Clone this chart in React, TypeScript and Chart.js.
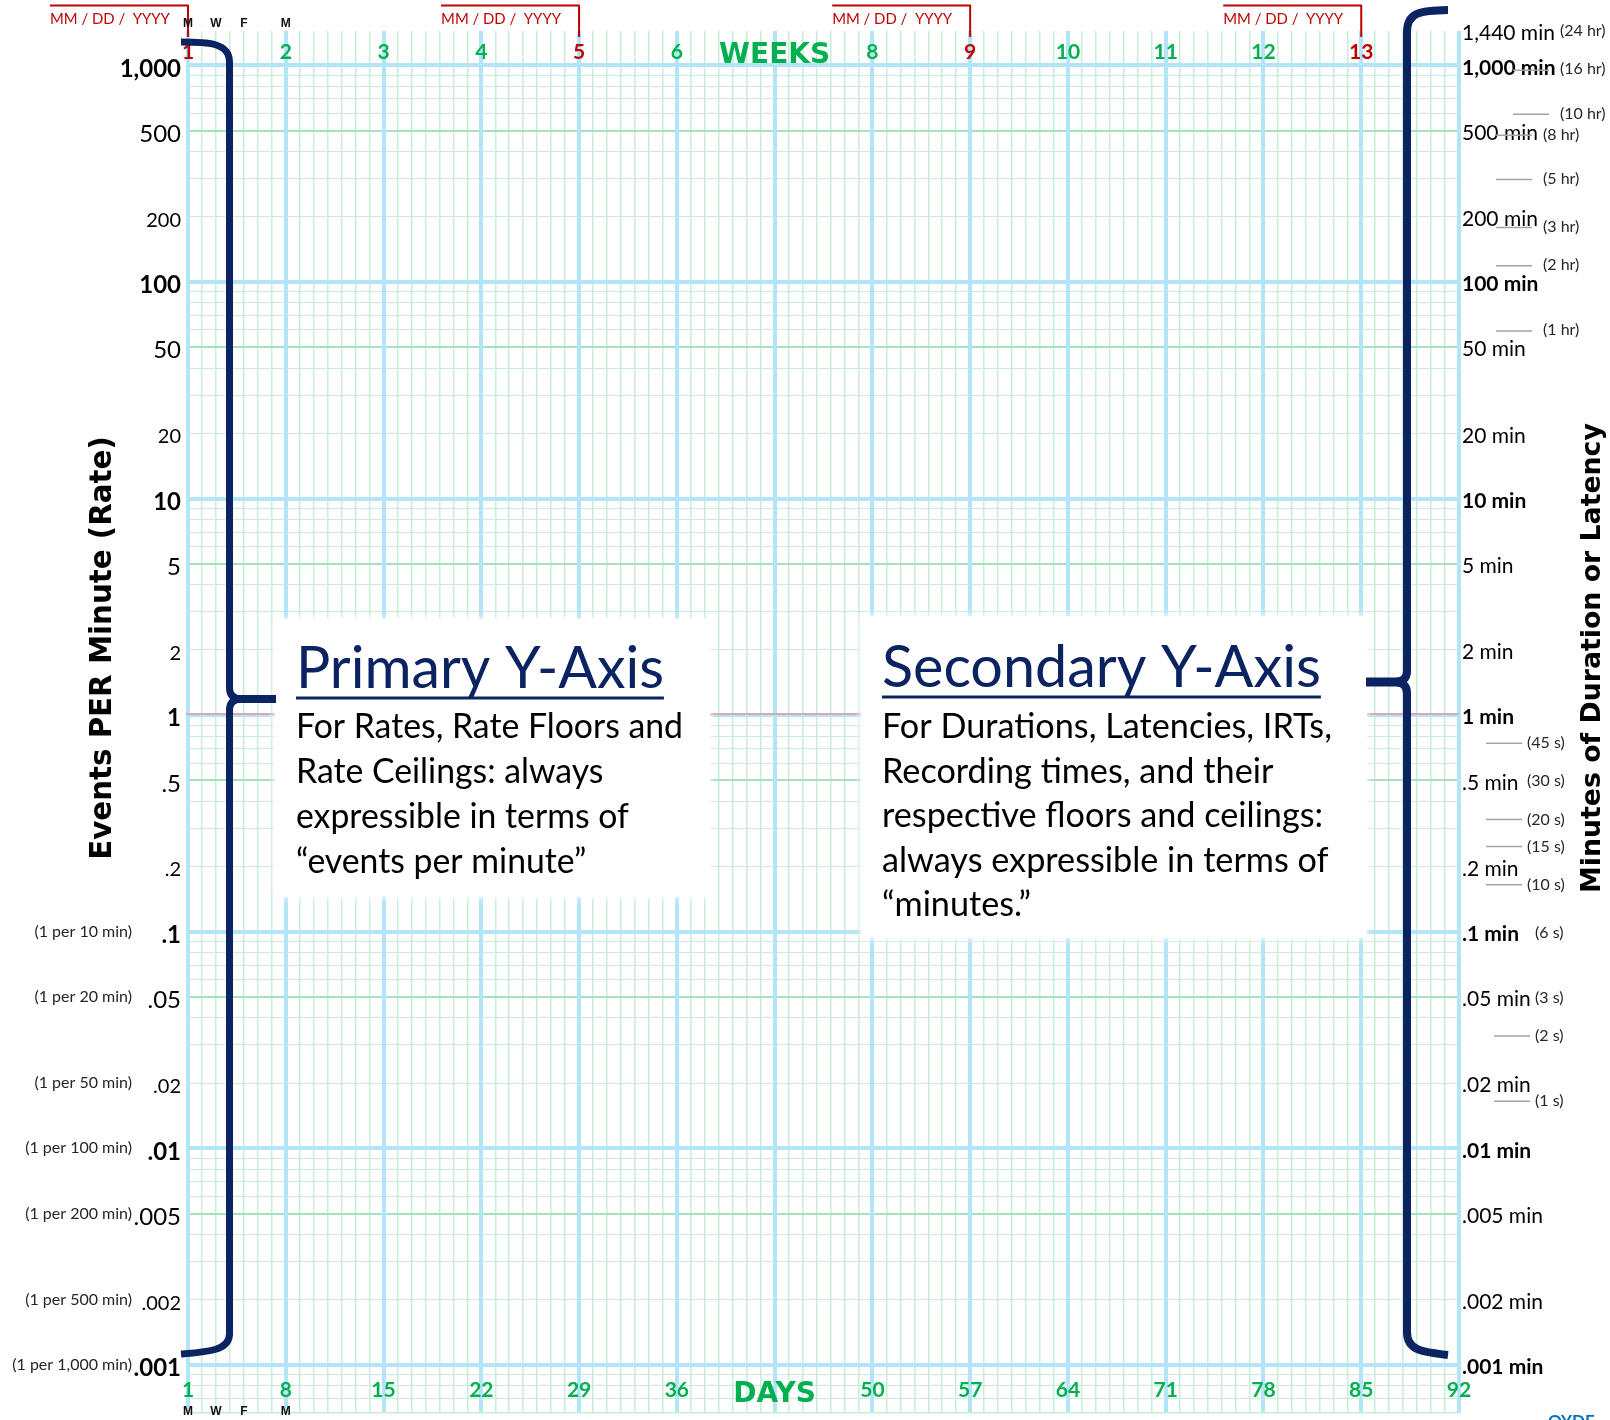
import React, { useEffect, useRef } from 'react';
import { Chart, registerables } from 'chart.js';

Chart.register(...registerables);

// ---------- axis ranges ----------
const dayRange = [1, 92];
const rateRange = [0.00064, 1440];

// ---------- calendar axis labels ----------
const weekStartDays = [1, 8, 15, 22, 29, 36, 43, 50, 57, 64, 71, 78, 85, 92];
const weekLabels = ['1', '2', '3', '4', '5', '6', 'WEEKS', '8', '9', '10', '11', '12', '13', ''];
const dayLabels = ['1', '8', '15', '22', '29', '36', 'DAYS', '50', '57', '64', '71', '78', '85', '92'];
const dateMarkerDays = [1, 29, 57, 85];
const dateMarkerText = 'MM / DD /  YYYY';
const weekdayDays = [1, 3, 5, 8];
const weekdayLabels = ['M', 'W', 'F', 'M'];

// ---------- rate (left) axis ----------
const rateTicks = [1000, 500, 200, 100, 50, 20, 10, 5, 2, 1, 0.5, 0.2, 0.1, 0.05, 0.02, 0.01, 0.005, 0.002, 0.001];
const rateLabels = ['1,000', '500', '200', '100', '50', '20', '10', '5', '2', '1', '.5', '.2', '.1', '.05', '.02', '.01', '.005', '.002', '.001'];
const perMinuteValues = [0.1, 0.05, 0.02, 0.01, 0.005, 0.002, 0.001];
const perMinuteLabels = ['(1 per 10 min)', '(1 per 20 min)', '(1 per 50 min)', '(1 per 100 min)', '(1 per 200 min)', '(1 per 500 min)', '(1 per 1,000 min)'];

// ---------- minutes (right) axis ----------
const minuteTicks = [1440, 1000, 500, 200, 100, 50, 20, 10, 5, 2, 1, 0.5, 0.2, 0.1, 0.05, 0.02, 0.01, 0.005, 0.002, 0.001];
const minuteLabels = ['1,440 min', '1,000 min', '500 min', '200 min', '100 min', '50 min', '20 min', '10 min', '5 min', '2 min', '1 min', '.5 min', '.2 min', '.1 min', '.05 min', '.02 min', '.01 min', '.005 min', '.002 min', '.001 min'];
const hourValues = [1440, 960, 600, 480, 300, 180, 120, 60];
const hourLabels = ['(24 hr)', '(16 hr)', '(10 hr)', '(8 hr)', '(5 hr)', '(3 hr)', '(2 hr)', '(1 hr)'];
const secondValues = [45 / 60, 30 / 60, 20 / 60, 15 / 60, 10 / 60, 6 / 60, 3 / 60, 2 / 60, 1 / 60];
const secondLabels = ['(45 s)', '(30 s)', '(20 s)', '(15 s)', '(10 s)', '(6 s)', '(3 s)', '(2 s)', '(1 s)'];

// ---------- titles and captions ----------
const rateTitle = 'Events PER Minute (Rate)';
const minutesTitle = 'Minutes of Duration or Latency';
const primaryTitle = 'Primary Y-Axis';
const primaryBody = ['For Rates, Rate Floors and', 'Rate Ceilings: always', 'expressible in terms of', '\u201Cevents per minute\u201D'];
const secondaryTitle = 'Secondary Y-Axis';
const secondaryBody = ['For Durations, Latencies, IRTs,', 'Recording times, and their', 'respective floors and ceilings:', 'always expressible in terms of', '\u201Cminutes.\u201D'];

// ---------- palette ----------
const BLUE = 'rgb(180, 228, 248)';
const GREEN = 'rgb(200, 237, 216)';
const GREEN_MID = 'rgb(164, 226, 190)';
const CLEAR = 'rgba(0,0,0,0)';
const NAVY = '#0b2461';
const RED = '#c00000';
const GREEN_TEXT = '#00b050';
const SANS = 'Lato';
const HEAVY = '"DejaVu Sans"';

const isDecade = (v: number) => Math.abs(Math.log10(v) - Math.round(Math.log10(v))) < 1e-9;
const mantissa = (v: number) => Math.round(v / Math.pow(10, Math.floor(Math.log10(v) + 1e-9)));
const lookup = (values: number[], labels: string[], v: number) => {
  const i = values.findIndex((t) => Math.abs(t - v) <= Math.abs(t) * 1e-6);
  return i >= 0 ? labels[i] : '';
};
// a blank leading line nudges a side-axis label a few pixels below its gridline
const nudged = (label: string) => (label ? ['', label] : '');

// every 1..9 x 10^n gridline inside the rate range
function logGridValues(min: number, max: number) {
  const out: number[] = [];
  for (let e = -5; e <= 4; e++) {
    for (let m = 1; m <= 9; m++) {
      const v = Number((m * Math.pow(10, e)).toPrecision(6));
      if (v >= min && v <= max) out.push(v);
    }
  }
  return out;
}

function dayGridValues(min: number, max: number) {
  const out: number[] = [];
  for (let d = min; d <= max; d++) out.push(d);
  return out;
}

const isWeekStart = (d: number) => weekStartDays.includes(d);

function fitSize(ctx: CanvasRenderingContext2D, text: string, weight: string, family: string, width: number) {
  ctx.font = `${weight} 100px ${family}`;
  return (100 * width) / ctx.measureText(text).width;
}

function drawPanel(ctx: CanvasRenderingContext2D, x: number, y: number, w: number, h: number) {
  ctx.save();
  ctx.shadowColor = '#ffffff';
  ctx.shadowBlur = 8;
  ctx.fillStyle = '#ffffff';
  ctx.fillRect(x, y, w, h);
  ctx.restore();
}

function drawCaption(
  ctx: CanvasRenderingContext2D,
  x: number,
  titleBase: number,
  title: string,
  titleWidth: number,
  body: string[],
  bodyBase: number,
  gap: number,
  bodyWidth: number
) {
  const ts = fitSize(ctx, title, '400', SANS, titleWidth);
  ctx.font = `400 ${ts}px ${SANS}`;
  ctx.fillStyle = NAVY;
  ctx.textAlign = 'left';
  ctx.textBaseline = 'alphabetic';
  ctx.fillText(title, x, titleBase);
  const tw = ctx.measureText(title).width;
  ctx.fillRect(x, titleBase + 8.5, tw, 3);

  const bs = fitSize(ctx, body[0], '400', SANS, bodyWidth);
  ctx.font = `400 ${bs}px ${SANS}`;
  ctx.fillStyle = '#000000';
  body.forEach((line, i) => ctx.fillText(line, x, bodyBase + i * gap));
}

const chartFurniture = {
  id: 'chartFurniture',
  afterDatasetsDraw(chart: any) {
    const { ctx, chartArea, scales } = chart;
    const px = (d: number) => scales.x.getPixelForValue(d);
    const py = (v: number) => scales.y.getPixelForValue(v);
    const pm = (v: number) => scales.y2.getPixelForValue(v);
    ctx.save();

    // red rule over the 1-per-minute line
    const y1 = py(1);
    ctx.strokeStyle = 'rgba(238, 140, 150, 0.7)';
    ctx.lineWidth = 2;
    ctx.beginPath();
    ctx.moveTo(chartArea.left - 2, y1 - 1);
    ctx.lineTo(chartArea.right, y1 - 1);
    ctx.stroke();

    // caption panels
    drawPanel(ctx, 275, 619, 435, 278);
    drawPanel(ctx, 861, 616, 506, 322);
    drawCaption(ctx, 296, 688, primaryTitle, 368, primaryBody, 738, 45, 387);
    drawCaption(ctx, 882, 687, secondaryTitle, 439, secondaryBody, 738, 44.5, 450);

    // braces
    ctx.strokeStyle = NAVY;
    ctx.lineCap = 'butt';
    ctx.lineJoin = 'round';
    ctx.lineWidth = 7;
    ctx.beginPath();
    ctx.moveTo(181, 42);
    ctx.bezierCurveTo(206, 42, 229.5, 42, 229.5, 62);
    ctx.lineTo(229.5, 688);
    ctx.quadraticCurveTo(229.5, 698, 240, 699);
    ctx.moveTo(240, 699);
    ctx.quadraticCurveTo(229.5, 700, 229.5, 710);
    ctx.lineTo(229.5, 1334);
    ctx.bezierCurveTo(229.5, 1351, 206, 1352, 181, 1354);
    ctx.stroke();
    ctx.lineWidth = 8;
    ctx.beginPath();
    ctx.moveTo(236, 699);
    ctx.lineTo(276, 699);
    ctx.stroke();

    ctx.lineWidth = 8;
    ctx.beginPath();
    ctx.moveTo(1448, 10);
    ctx.bezierCurveTo(1421, 10.5, 1407, 12, 1407, 32);
    ctx.lineTo(1407, 671);
    ctx.quadraticCurveTo(1407, 681, 1396, 682);
    ctx.moveTo(1396, 682);
    ctx.quadraticCurveTo(1407, 683, 1407, 693);
    ctx.lineTo(1407, 1332);
    ctx.bezierCurveTo(1407, 1350, 1421, 1352, 1448, 1355);
    ctx.stroke();
    ctx.lineWidth = 9;
    ctx.beginPath();
    ctx.moveTo(1366, 682);
    ctx.lineTo(1400, 682);
    ctx.stroke();

    // date markers above selected weeks
    const ds = fitSize(ctx, dateMarkerText, '400', SANS, 120);
    dateMarkerDays.forEach((d) => {
      const X = px(d);
      ctx.strokeStyle = RED;
      ctx.lineWidth = 2;
      ctx.lineCap = 'butt';
      ctx.beginPath();
      ctx.moveTo(X - 138, 5.5);
      ctx.lineTo(X, 5.5);
      ctx.lineTo(X, 37);
      ctx.stroke();
      ctx.font = `400 ${ds}px ${SANS}`;
      ctx.fillStyle = RED;
      ctx.textAlign = 'left';
      ctx.textBaseline = 'alphabetic';
      ctx.fillText(dateMarkerText, X - 138, 24);
    });

    // weekday initials
    ctx.font = `bold 12px "Liberation Sans"`;
    ctx.fillStyle = '#111111';
    ctx.textAlign = 'center';
    ctx.textBaseline = 'middle';
    weekdayDays.forEach((d, i) => {
      ctx.fillText(weekdayLabels[i], px(d), 24);
      ctx.fillText(weekdayLabels[i], px(d), 1412);
    });

    // per-minute notes beside the lower rate labels
    ctx.font = `400 16px ${SANS}`;
    ctx.fillStyle = '#262626';
    ctx.textAlign = 'right';
    perMinuteValues.forEach((v, i) => ctx.fillText(perMinuteLabels[i], 132, py(v)));

    // hour and second equivalents on the minutes axis
    const onTick = (v: number) => minuteTicks.some((t) => Math.abs(t - v) <= t * 1e-6);
    ctx.textAlign = 'left';
    ctx.strokeStyle = '#a3a3a3';
    ctx.lineWidth = 1.5;
    hourValues.forEach((v, i) => {
      const yy = pm(v);
      const lx = v >= 600 ? 1560 : 1543;
      if (!onTick(v)) {
        ctx.beginPath();
        ctx.moveTo(lx - 47, yy + 1);
        ctx.lineTo(lx - 11, yy + 1);
        ctx.stroke();
      }
      ctx.fillText(hourLabels[i], lx, yy);
    });
    secondValues.forEach((v, i) => {
      const yy = pm(v);
      const lx = v > 0.11 ? 1527 : 1535;
      if (!onTick(v)) {
        ctx.beginPath();
        ctx.moveTo(lx - 41, yy + 1);
        ctx.lineTo(lx - 5, yy + 1);
        ctx.stroke();
      }
      ctx.fillText(secondLabels[i], lx, yy + 1);
    });

    // axis titles
    ctx.fillStyle = '#000000';
    ctx.textAlign = 'center';
    ctx.textBaseline = 'middle';
    const ls = fitSize(ctx, rateTitle, 'bold', HEAVY, 424);
    ctx.save();
    ctx.translate(103, 648);
    ctx.rotate(-Math.PI / 2);
    ctx.font = `bold ${ls}px ${HEAVY}`;
    ctx.fillText(rateTitle, 0, 0);
    ctx.restore();
    const rs = fitSize(ctx, minutesTitle, 'bold', HEAVY, 470);
    ctx.save();
    ctx.translate(1593, 658);
    ctx.rotate(-Math.PI / 2);
    ctx.font = `bold ${rs}px ${HEAVY}`;
    ctx.fillText(minutesTitle, 0, 0);
    ctx.restore();

    // footer code, trimmed by the page edge
    ctx.font = `bold 17px ${SANS}`;
    ctx.fillStyle = '#0070c0';
    ctx.textAlign = 'left';
    ctx.textBaseline = 'top';
    ctx.fillText('QYDF', 1548, 1413);

    ctx.restore();
  },
};

export default function App() {
  const canvasRef = useRef<HTMLCanvasElement>(null);

  useEffect(() => {
    const canvas = canvasRef.current;
    if (!canvas) return;

    const tickFontBold = (size: number) => ({ family: SANS, size, weight: 'bold' as const, lineHeight: '24px' });
    // line heights shift the heavy headings so they sit level with the numbers
    const daysHeading = { family: HEAVY, size: 28, weight: 'bold' as const, lineHeight: '14px' };
    const weeksHeading = { family: HEAVY, size: 28, weight: 'bold' as const, lineHeight: '31px' };

    const chart = new Chart(canvas, {
      type: 'scatter',
      data: { datasets: [] },
      options: {
        animation: false,
        responsive: false,
        devicePixelRatio: 1,
        layout: { padding: 0 },
        plugins: { legend: { display: false }, tooltip: { enabled: false } },
        scales: {
          x: {
            type: 'linear',
            position: 'bottom',
            min: dayRange[0],
            max: dayRange[1],
            bounds: 'data',
            afterBuildTicks: (s: any) => {
              s.ticks = dayGridValues(dayRange[0], dayRange[1]).map((value) => ({ value }));
            },
            afterFit: (s: any) => {
              s.height = 7;
              s.paddingLeft = 0;
              s.paddingRight = 0;
            },
            grid: {
              drawTicks: false,
              color: (c: any) => (c.tick && isWeekStart(c.tick.value) ? CLEAR : GREEN),
              lineWidth: 1.5,
            },
            border: { display: true, color: GREEN, width: 1.5 },
            ticks: {
              autoSkip: false,
              maxRotation: 0,
              minRotation: 0,
              mirror: true,
              padding: 11,
              color: GREEN_TEXT,
              font: (c: any) => (c.tick && c.tick.value === 43 ? daysHeading : tickFontBold(21)),
              callback: (v: any) => lookup(weekStartDays, dayLabels, Number(v)),
            },
          },
          x2: {
            type: 'linear',
            position: 'top',
            min: dayRange[0],
            max: dayRange[1],
            bounds: 'data',
            afterBuildTicks: (s: any) => {
              s.ticks = weekStartDays.map((value) => ({ value }));
            },
            afterFit: (s: any) => {
              s.height = 31;
              s.paddingLeft = 0;
              s.paddingRight = 0;
            },
            grid: { drawTicks: false, color: BLUE, lineWidth: 4, z: -0.5 },
            border: { display: false },
            ticks: {
              autoSkip: false,
              maxRotation: 0,
              minRotation: 0,
              mirror: true,
              padding: 9,
              color: (c: any) => (c.tick && dateMarkerDays.includes(c.tick.value) ? RED : GREEN_TEXT),
              font: (c: any) => (c.tick && c.tick.value === 43 ? weeksHeading : tickFontBold(21)),
              callback: (v: any) => lookup(weekStartDays, weekLabels, Number(v)),
            },
          },
          y: {
            type: 'logarithmic',
            position: 'left',
            min: rateRange[0],
            max: rateRange[1],
            afterBuildTicks: (s: any) => {
              s.ticks = logGridValues(rateRange[0], rateRange[1]).map((value) => ({ value }));
            },
            afterFit: (s: any) => {
              s.width = 188;
              s.paddingTop = 0;
              s.paddingBottom = 0;
            },
            grid: {
              drawTicks: false,
              color: (c: any) => {
                const v = c.tick ? c.tick.value : 1;
                if (isDecade(v)) return CLEAR;
                return mantissa(v) === 5 ? GREEN_MID : GREEN;
              },
              lineWidth: (c: any) => (c.tick && mantissa(c.tick.value) === 5 ? 2 : 1),
            },
            border: { display: false },
            ticks: {
              autoSkip: false,
              padding: 7,
              color: '#000000',
              font: (c: any) => {
                const v = c.tick ? c.tick.value : 1;
                if (isDecade(v)) return { family: SANS, size: 24, weight: 'bold', lineHeight: '7px' };
                if (mantissa(v) === 5) return { family: SANS, size: 24, weight: 'normal', lineHeight: '7px' };
                return { family: SANS, size: 20, weight: 'normal', lineHeight: '7px' };
              },
              callback: (v: any) => nudged(lookup(rateTicks, rateLabels, Number(v))),
            },
          },
          y2: {
            type: 'logarithmic',
            position: 'right',
            min: rateRange[0],
            max: rateRange[1],
            afterBuildTicks: (s: any) => {
              s.ticks = minuteTicks.map((value) => ({ value }));
            },
            afterFit: (s: any) => {
              s.width = 151;
              s.paddingTop = 0;
              s.paddingBottom = 0;
            },
            grid: {
              drawTicks: false,
              color: (c: any) => (c.tick && isDecade(c.tick.value) ? BLUE : CLEAR),
              lineWidth: 4,
              z: -0.5,
            },
            border: { display: false },
            ticks: {
              autoSkip: false,
              padding: 3,
              color: '#000000',
              font: (c: any) => {
                const v = c.tick ? c.tick.value : 1;
                return { family: SANS, size: 21, weight: isDecade(v) ? 'bold' : 'normal', lineHeight: '5px' };
              },
              callback: (v: any) => nudged(lookup(minuteTicks, minuteLabels, Number(v))),
            },
          },
        },
      } as any,
      plugins: [chartFurniture],
    });

    return () => chart.destroy();
  }, []);

  return (
    <div style={{ position: 'absolute', left: 0, top: 0, width: 1610, height: 1420, background: '#ffffff' }}>
      <canvas ref={canvasRef} width={1610} height={1420} style={{ display: 'block' }} />
    </div>
  );
}
